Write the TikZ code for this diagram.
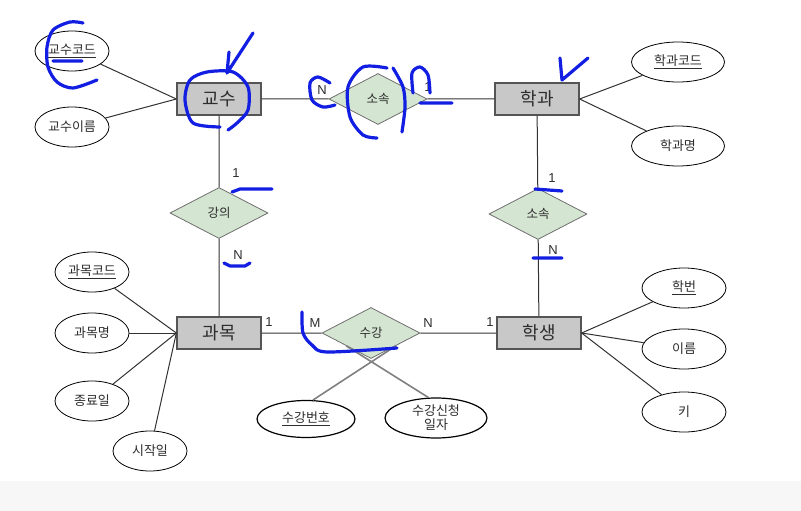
\documentclass[tikz,border=0pt]{standalone}
\usepackage{fontspec}
\setmainfont{Noto Sans CJK KR}
\newfontfamily\numfont{Liberation Sans}
\usetikzlibrary{shapes.geometric,calc}
\definecolor{entfill}{RGB}{200,200,200}
\definecolor{edge}{RGB}{85,85,85}
\definecolor{relfill}{RGB}{212,230,210}
\definecolor{reledge}{RGB}{110,110,110}
\definecolor{txt}{RGB}{45,45,45}
\definecolor{lnk}{RGB}{50,50,50}
\definecolor{pen}{RGB}{18,30,225}
\begin{document}
\begin{tikzpicture}[x=1pt,y=-1pt,
ent/.style={draw=edge,fill=entfill,line width=1.3pt,minimum width=84pt,minimum height=32pt,inner sep=0pt,font=\fontsize{18}{18}\selectfont,text=txt},
rel/.style={diamond,draw=reledge,fill=relfill,line width=.8pt,minimum width=98pt,minimum height=51pt,inner sep=0pt,font=\fontsize{12.5}{12.5}\selectfont,text=txt},
attr/.style={ellipse,draw=black,fill=white,line width=.8pt,minimum height=40pt,inner sep=0pt,font=\fontsize{13}{15}\selectfont,text=txt,align=center},
card/.style={font=\numfont\fontsize{13}{13}\selectfont,text=txt,inner sep=0pt},
conn/.style={draw=lnk,line width=1pt},
pen/.style={draw=pen,line width=3.2pt,line cap=round,line join=round}]
\useasboundingbox(0,0)rectangle(801,511);
\fill[gray!6](0,481)rectangle(801,511);
\node[ent](gyosu)at(219,99){교수};\node[ent](hakgwa)at(537,99){학과};
\node[ent](gwamok)at(219,333){과목};\node[ent](haksaeng)at(539,333){학생};
\node[rel](sosok1)at(378,99){소속};\node[rel](gangui)at(219,213){강의};
\node[rel](sosok2)at(538,214){소속};\node[rel](sugang)at(371,333){수강};
\draw[conn](gyosu)--(sosok1)--(hakgwa) (gyosu)--(gangui)--(gwamok) (hakgwa)--(sosok2)--(haksaeng) (gwamok)--(sugang)--(haksaeng);
\foreach\n/\x/\y/\w/\t/\e in{gkcode/72/51/74/{\underline{교수코드}}/gyosu.west,gkname/72/127/74/교수이름/gyosu.west,
hgcode/678/62/93/{\underline{학과코드}}/hakgwa.east,hgname/678/146/93/학과명/hakgwa.east,
gmcode/92/272/74/{\underline{과목코드}}/gwamok.west,gmname/92/333/74/과목명/gwamok.west,gmend/92/401/74/종료일/gwamok.west,gmstart/150/451/74/시작일/gwamok.west,
hbun/684/288/84/{\underline{학번}}/haksaeng.east,hname/684/349/84/이름/haksaeng.east,hkey/684/412/84/키/haksaeng.east}
{\node[attr,minimum width=\w pt](\n)at(\x,\y){\t};\draw[conn](\n)--(\e);}
\node[attr,minimum width=98pt,minimum height=37pt,line width=1.2pt](sgnum)at(306,419){\underline{수강번호}};
\node[attr,minimum width=102pt,line width=1.2pt,font=\fontsize{13}{14}\selectfont](sgdate)at(436,418){수강신청\\일자};
\draw[draw=gray,line width=1.6pt](sgnum.70)--($(sugang.south)!.5!(sugang.east)$) (sgdate.110)--($(sugang.south)!.5!(sugang.west)$);
\foreach\x/\y/\t[count=\i]in{322/90/N,428/87/1,236/173/1,238/255/N,552/178/1,553/250/N,269/322/1,315/323/M,428/323/N,490/322/1}{\node[card](card\i)at(\x,\y){\t};}
\draw[pen]plot[smooth]coordinates{(83,23)(70,22)(53,30)(47,47)(48,67)(57,82)(73,88)(97,80)} (53,61)--(82,61);
\draw[pen]plot[smooth]coordinates{(220,127)(193,123)(185,100)(190,80)(207,72)(233,72)(248,87)(248,110)(237,123)(228,130)} (229,52)--(227,73)--(253,33);
\draw[pen]plot[smooth]coordinates{(330,83)(318,77)(310,83)(312,100)(323,107)(335,105)};
\draw[pen]plot[smooth]coordinates{(387,68)(363,67)(348,87)(350,117)(363,135)(377,138)};
\draw[pen]plot[smooth]coordinates{(393,68)(403,87)(405,107)(402,132)};
\draw[pen]plot[smooth]coordinates{(413,93)(412,73)(420,67)(428,75)(430,93)} (420,103)--(452,103);
\draw[pen](560,58)--(562,80)--(588,58);
\draw[pen](232,192)--(240,189)--(272,189) (224,263)--(230,266)--(245,266)--(250,263);
\draw[pen](535,189)--(562,191) (533,258)--(562,258);
\draw[pen]plot[smooth]coordinates{(302,312)(303,333)(312,345)(327,352)(397,348)};
\end{tikzpicture}
\end{document}
